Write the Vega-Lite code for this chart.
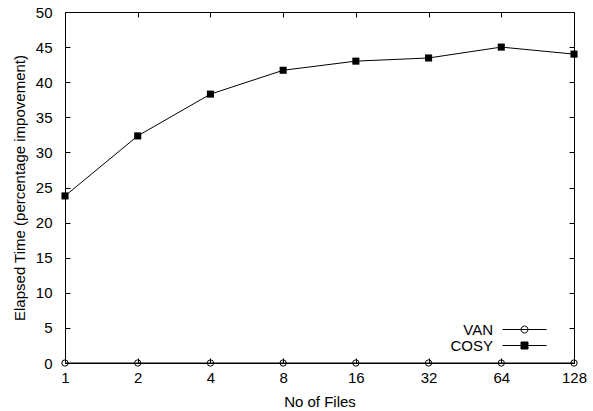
{
  "$schema": "https://vega.github.io/schema/vega-lite/v6.json",
  "width": 509,
  "height": 351,
  "autosize": {"type": "none"},
  "padding": {"left": 65, "top": 12, "right": 19, "bottom": 48},
  "background": "white",
  "config": {
    "font": "Liberation Sans",
    "view": {"stroke": "black", "strokeWidth": 1},
    "axis": {
      "domain": false,
      "grid": false,
      "tickColor": "black",
      "tickSize": -5,
      "tickWidth": 1,
      "labelColor": "black",
      "labelFontSize": 15,
      "labelFont": "Liberation Sans",
      "labelFlush": false,
      "labelOverlap": false,
      "titleColor": "black",
      "titleFontSize": 15,
      "titleFontWeight": "normal",
      "titleFont": "Liberation Sans"
    },
    "legend": {
      "labelFont": "Liberation Sans",
      "labelFontSize": 15,
      "labelColor": "black"
    }
  },
  "data": {
    "values": [
      {"files": 1, "series": "VAN", "value": 0},
      {"files": 2, "series": "VAN", "value": 0},
      {"files": 4, "series": "VAN", "value": 0},
      {"files": 8, "series": "VAN", "value": 0},
      {"files": 16, "series": "VAN", "value": 0},
      {"files": 32, "series": "VAN", "value": 0},
      {"files": 64, "series": "VAN", "value": 0},
      {"files": 128, "series": "VAN", "value": 0},
      {"files": 1, "series": "COSY", "value": 23.8},
      {"files": 2, "series": "COSY", "value": 32.35},
      {"files": 4, "series": "COSY", "value": 38.3},
      {"files": 8, "series": "COSY", "value": 41.7},
      {"files": 16, "series": "COSY", "value": 43.0},
      {"files": 32, "series": "COSY", "value": 43.45},
      {"files": 64, "series": "COSY", "value": 45.0},
      {"files": 128, "series": "COSY", "value": 44.0}
    ]
  },
  "layer": [
    {
      "mark": {"type": "line", "color": "black", "strokeWidth": 1},
      "encoding": {
        "x": {
          "field": "files", "type": "quantitative",
          "scale": {"type": "log", "base": 2, "domain": [1, 128]},
          "axis": {"orient": "bottom", "values": [1, 2, 4, 8, 16, 32, 64, 128], "format": "d", "title": "No of Files", "labelPadding": 12, "titlePadding": 9}
        },
        "y": {
          "field": "value", "type": "quantitative",
          "scale": {"domain": [0, 50]},
          "axis": {"orient": "left", "values": [0, 5, 10, 15, 20, 25, 30, 35, 40, 45, 50], "title": "Elapsed Time (percentage impovement)", "labelPadding": 18, "titlePadding": 8}
        },
        "detail": {"field": "series"}
      }
    },
    {
      "transform": [{"filter": "datum.series === 'VAN'"}],
      "mark": {"type": "point", "shape": "circle", "filled": false, "stroke": "black", "strokeWidth": 1, "size": 40, "opacity": 1},
      "encoding": {
        "x": {"field": "files", "type": "quantitative", "axis": null},
        "y": {"field": "value", "type": "quantitative", "axis": null}
      }
    },
    {
      "transform": [{"filter": "datum.series === 'COSY'"}],
      "mark": {"type": "point", "shape": "square", "filled": true, "color": "black", "size": 50, "opacity": 1},
      "encoding": {
        "x": {"field": "files", "type": "quantitative", "axis": null},
        "y": {"field": "value", "type": "quantitative", "axis": null}
      }
    },
    {
      "mark": {"type": "point", "opacity": 0, "strokeWidth": 1},
      "encoding": {
        "x": {"field": "files", "type": "quantitative", "axis": null},
        "y": {"field": "value", "type": "quantitative", "axis": null},
        "shape": {
          "field": "series", "type": "nominal",
          "scale": {"domain": ["VAN", "COSY"], "range": ["M-4.4,0H4.4M0.7,0A0.7,0.7,0,1,1,-0.7,0A0.7,0.7,0,1,1,0.7,0", "M-4.4,0H4.4M-0.7,-0.7H0.7V0.7H-0.7Z"]},
          "legend": {
            "title": null,
            "orient": "none",
            "legendX": 452,
            "legendY": 310,
            "padding": 0,
            "symbolSize": 100,
            "symbolOpacity": 1,
            "symbolStrokeColor": "black",
            "symbolStrokeWidth": 1,
            "rowPadding": -2.6,
            "labelAlign": "right",
            "labelOffset": -39
          }
        },
        "fill": {
          "field": "series", "type": "nominal",
          "scale": {"domain": ["VAN", "COSY"], "range": ["transparent", "black"]},
          "legend": {
            "title": null,
            "orient": "none",
            "legendX": 452,
            "legendY": 310,
            "padding": 0,
            "symbolSize": 100,
            "symbolOpacity": 1,
            "symbolStrokeColor": "black",
            "symbolStrokeWidth": 1,
            "rowPadding": -2.6,
            "labelAlign": "right",
            "labelOffset": -39
          }
        },
        "stroke": {
          "field": "series", "type": "nominal",
          "scale": {"domain": ["VAN", "COSY"], "range": ["black", "black"]},
          "legend": {
            "title": null,
            "orient": "none",
            "legendX": 452,
            "legendY": 310,
            "padding": 0,
            "symbolSize": 100,
            "symbolOpacity": 1,
            "symbolStrokeColor": "black",
            "symbolStrokeWidth": 1,
            "rowPadding": -2.6,
            "labelAlign": "right",
            "labelOffset": -39
          }
        }
      }
    },
    {
      "mark": {"type": "point", "opacity": 0},
      "encoding": {
        "x": {
          "field": "files", "type": "quantitative",
          "axis": {"orient": "top", "values": [1, 2, 4, 8, 16, 32, 64, 128], "labels": false, "title": null}
        },
        "y": {
          "field": "value", "type": "quantitative",
          "axis": {"orient": "right", "values": [0, 5, 10, 15, 20, 25, 30, 35, 40, 45, 50], "labels": false, "title": null}
        }
      }
    }
  ]
}
